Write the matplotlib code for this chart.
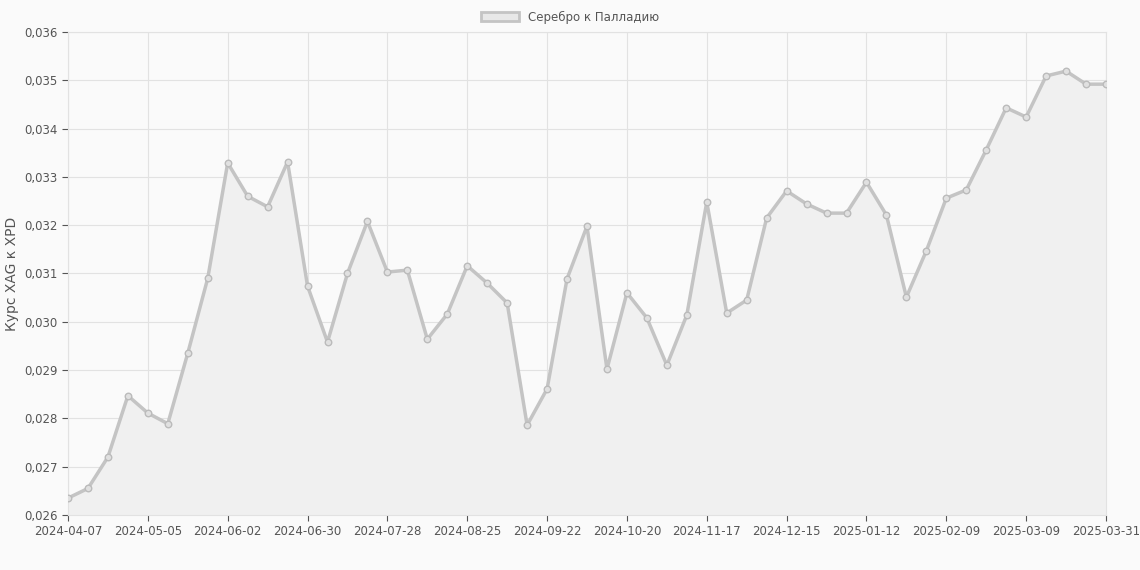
import matplotlib
matplotlib.use("Agg")
import matplotlib.pyplot as plt

values = [0.02635,0.02655,0.0272,0.02847,0.02811,0.02789,0.02935,0.0309,0.03329,0.0326,
          0.03238,0.03331,0.03074,0.02958,0.0310,0.03208,0.03103,0.03107,0.02964,0.03016,
          0.03116,0.0308,0.03039,0.02786,0.02861,0.03089,0.03198,0.02902,0.0306,0.03008,
          0.0291,0.03014,0.03248,0.03018,0.03045,0.03215,0.03271,0.03244,0.03225,0.03225,
          0.03289,0.03221,0.03051,0.03147,0.03256,0.03273,0.03356,0.03443,0.03424,0.03509,
          0.03519,0.03492,0.03492]
tick_pos = [0,4,8,12,16,20,24,28,32,36,40,44,48,52]
tick_labels = ["2024-04-07","2024-05-05","2024-06-02","2024-06-30","2024-07-28","2024-08-25",
               "2024-09-22","2024-10-20","2024-11-17","2024-12-15","2025-01-12","2025-02-09",
               "2025-03-09","2025-03-31"]
yticks = [0.026+0.001*i for i in range(11)]

fig = plt.figure(figsize=(11.4,5.7), dpi=100, facecolor="#fafafa")
ax = fig.add_axes([68/1140, 1-515/570, (1106-68)/1140, (515-32)/570])
ax.set_facecolor("#fafafa")
x = list(range(len(values)))
ax.fill_between(x, values, 0.026, color="#f0f0f0", zorder=1)
ax.plot(x, values, color="#c4c4c4", lw=2.5, zorder=2)
ax.scatter(x, values, s=22, facecolor="#e0e0e0", edgecolor="#bbbbbb", lw=1, zorder=3)
ax.set_xlim(0, 52); ax.set_ylim(0.026, 0.036)
ax.set_xticks(tick_pos); ax.set_xticklabels(tick_labels)
ax.set_yticks(yticks); ax.set_yticklabels([f"{v:.3f}".replace(".", ",") for v in yticks])
ax.grid(color="#e2e2e2", lw=0.8); ax.set_axisbelow(True)
for s in ax.spines.values(): s.set_color("#e2e2e2")
ax.tick_params(colors="#555555", labelsize=8.5, length=4)
ax.set_ylabel("Курс XAG к XPD", color="#555555", fontsize=10)
from matplotlib.patches import Patch
leg = fig.legend(handles=[Patch(facecolor="#e8e8e8", edgecolor="#c4c4c4", lw=2, label="Серебро к Палладию")],
           loc="upper center", bbox_to_anchor=(0.5, 1.0), frameon=False, fontsize=8.5,
           handlelength=3.2, labelcolor="#555555")
fig.savefig("out.png", dpi=100, facecolor=fig.get_facecolor())
